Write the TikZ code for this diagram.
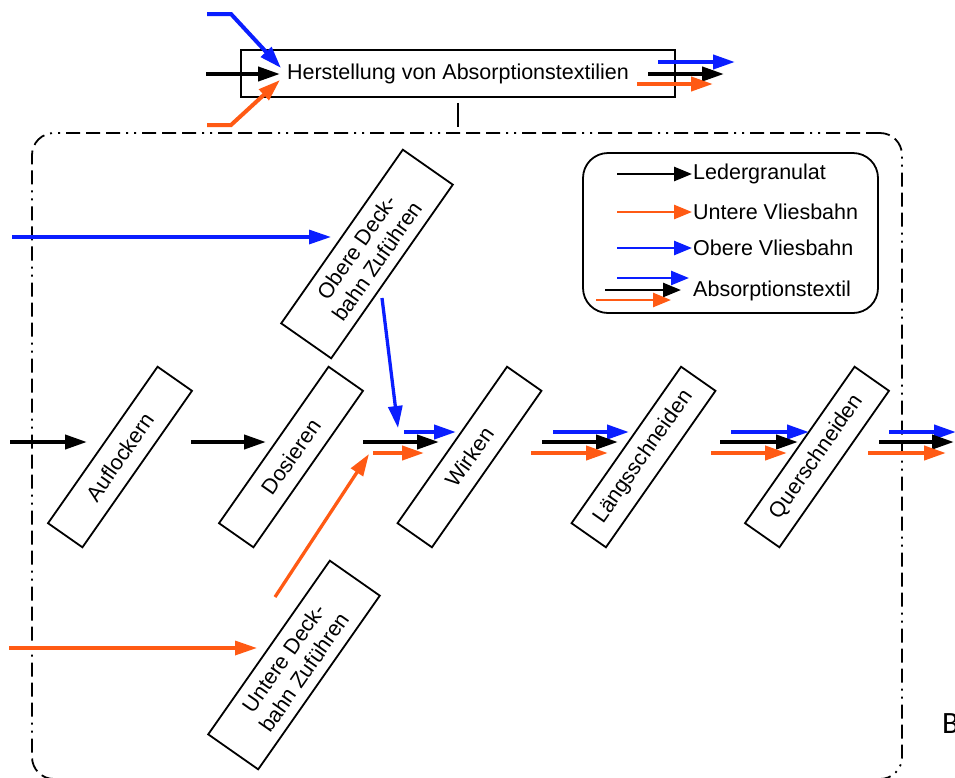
\documentclass[tikz,border=0pt]{standalone}
\usepackage{fontspec}
\setmainfont{Liberation Sans}
\newfontfamily\carlitofont{Carlito}
\usetikzlibrary{arrows.meta}
\definecolor{vblue}{RGB}{10,30,255}
\definecolor{vorange}{RGB}{255,90,20}
\begin{document}
\begin{tikzpicture}[x=1pt,y=-1pt,
  every node/.style={font=\fontsize{21.5}{25}\selectfont},
  proc/.style={draw,line width=1.8pt,fill=white,minimum width=191pt,minimum height=42pt,rotate=55,inner sep=0pt},
  feed/.style={draw,line width=1.8pt,fill=white,minimum width=212pt,minimum height=61pt,rotate=55,align=center,inner sep=0pt},
  flow/.style={line width=4pt,-{Triangle[length=22pt,width=14pt]}},
  feedflow/.style={line width=3.3pt,-{Triangle[length=22pt,width=14pt]}},
  leg/.style={line width=2.6pt,-{Triangle[length=18pt,width=14pt]}},
  frame/.style={draw,line width=1.8pt,rounded corners=22pt,
    dash pattern=on 14pt off 6pt on 14pt off 6pt on 14pt off 6pt on 2pt off 6pt on 2pt off 6pt},
]
\useasboundingbox (0,0) rectangle (955,777);

% frame and top box
\node[frame,minimum width=870pt,minimum height=646pt] (frame) at (467,456) {};
\node[draw,line width=1.8pt,fill=white,minimum width=434pt,minimum height=47pt,inner sep=0pt] (top) at (458,73.5) {Herstellung von Absorptionstextilien};
\draw[line width=2pt,shorten <=5pt,shorten >=5pt] (top.south) -- (top.south |- frame.north);

% top box inputs / outputs
\coordinate (tb0) at (207,14); \coordinate (tb1) at (231,14); \coordinate (tb2) at (281,68);
\coordinate (tk0) at (206,74); \coordinate (tk1) at (280,74);
\coordinate (to0) at (207,125); \coordinate (to1) at (231,125); \coordinate (to2) at (280,80);
\draw[flow,vblue] (tb0) -- (tb1) -- (tb2);
\draw[flow] (tk0) -- (tk1);
\draw[flow,vorange] (to0) -- (to1) -- (to2);
\coordinate (ub0) at (658,62); \coordinate (ub1) at (735,62);
\coordinate (uk0) at (648,74); \coordinate (uk1) at (724,74);
\coordinate (uo0) at (637,84); \coordinate (uo1) at (713,84);
\draw[flow,vblue] (ub0) -- (ub1);
\draw[flow] (uk0) -- (uk1);
\draw[flow,vorange] (uo0) -- (uo1);

% legend
\node[draw,line width=1.8pt,rounded corners=25pt,minimum width=295pt,minimum height=160pt] (legend) at (730.5,233) {};
\node[anchor=west,inner sep=1pt] (lg1) at (692,174) {Ledergranulat};
\node[anchor=west,inner sep=1pt] (lg2) at (692,212) {Untere Vliesbahn};
\node[anchor=west,inner sep=1pt] (lg3) at (692,248) {Obere Vliesbahn};
\node[anchor=west,inner sep=1pt] (lg4) at (692,291) {Absorptionstextil};
\coordinate (l1) at (617,174); \coordinate (l2) at (617,212); \coordinate (l3) at (617,248);
\draw[leg] (l1) -- (l1 -| lg1.west);
\draw[leg,vorange] (l2) -- (l2 -| lg2.west);
\draw[leg,vblue] (l3) -- (l3 -| lg3.west);
\coordinate (l4b0) at (617,278); \coordinate (l4b1) at (689,278);
\coordinate (l4k0) at (605,290); \coordinate (l4k1) at (681,290);
\coordinate (l4o0) at (596,300); \coordinate (l4o1) at (671,300);
\draw[leg,vblue] (l4b0) -- (l4b1);
\draw[leg] (l4k0) -- (l4k1);
\draw[leg,vorange] (l4o0) -- (l4o1);

% process boxes
\node[proc] (aufl) at (120,457) {Auflockern};
\node[proc] (dos) at (291,457) {Dosieren};
\node[proc] (wirk) at (469.5,457) {Wirken};
\node[proc] (laengs) at (643.5,457) {Längsschneiden};
\node[proc] (quer) at (817,457) {Querschneiden};
\node[feed] (obere) at (367,254) {Obere Deck-\\bahn Zuführen};
\node[feed] (untere) at (294,665) {Untere Deck-\\bahn Zuführen};

% feed arrows
\coordinate (fb0) at (12,237); \coordinate (fb1) at (331,237);
\draw[feedflow,vblue] (fb0) -- (fb1);
\coordinate (fo0) at (9,648); \coordinate (fo1) at (257,648);
\draw[feedflow,vorange] (fo0) -- (fo1);
\coordinate (ob0) at (382,298); \coordinate (ob1) at (398,428);
\draw[feedflow,vblue] (ob0) -- (ob1);
\coordinate (uo0d) at (275,597); \coordinate (uo1d) at (369,454);
\draw[feedflow,vorange] (uo0d) -- (uo1d);

% main row
\coordinate (k0) at (10,442); \coordinate (k1) at (87,442);
\coordinate (k2) at (191,442); \coordinate (k3) at (266,442);
\coordinate (k4) at (363,442); \coordinate (k5) at (439,442);
\draw[flow] (k0) -- (k1);
\draw[flow] (k2) -- (k3);
\draw[flow] (k4) -- (k5);
\coordinate (wb0) at (404,432); \coordinate (wb1) at (456,432);
\coordinate (wo0) at (373,453); \coordinate (wo1) at (424,453);
\draw[flow,vblue] (wb0) -- (wb1);
\draw[flow,vorange] (wo0) -- (wo1);

% after Wirken
\coordinate (ab0) at (553,432); \coordinate (ab1) at (629,432);
\coordinate (ak0) at (542,442); \coordinate (ak1) at (618,442);
\coordinate (ao0) at (531,453); \coordinate (ao1) at (608,453);
\draw[flow,vblue] (ab0) -- (ab1);
\draw[flow] (ak0) -- (ak1);
\draw[flow,vorange] (ao0) -- (ao1);
% after Laengsschneiden
\coordinate (bb0) at (731,432); \coordinate (bb1) at (809,432);
\coordinate (bk0) at (720,442); \coordinate (bk1) at (798,442);
\coordinate (bo0) at (711,453); \coordinate (bo1) at (787,453);
\draw[flow,vblue] (bb0) -- (bb1);
\draw[flow] (bk0) -- (bk1);
\draw[flow,vorange] (bo0) -- (bo1);
% after Querschneiden
\coordinate (cb0) at (889,432); \coordinate (cb1) at (956,432);
\coordinate (ck0) at (879,442); \coordinate (ck1) at (954,442);
\coordinate (co0) at (868,453); \coordinate (co1) at (946,453);
\draw[flow,vblue] (cb0) -- (cb1);
\draw[flow] (ck0) -- (ck1);
\draw[flow,vorange] (co0) -- (co1);

\node[font=\carlitofont\fontsize{31}{31}\selectfont,anchor=base west,inner sep=0pt] (bmark) at (942,733) {B};
\end{tikzpicture}
\end{document}
